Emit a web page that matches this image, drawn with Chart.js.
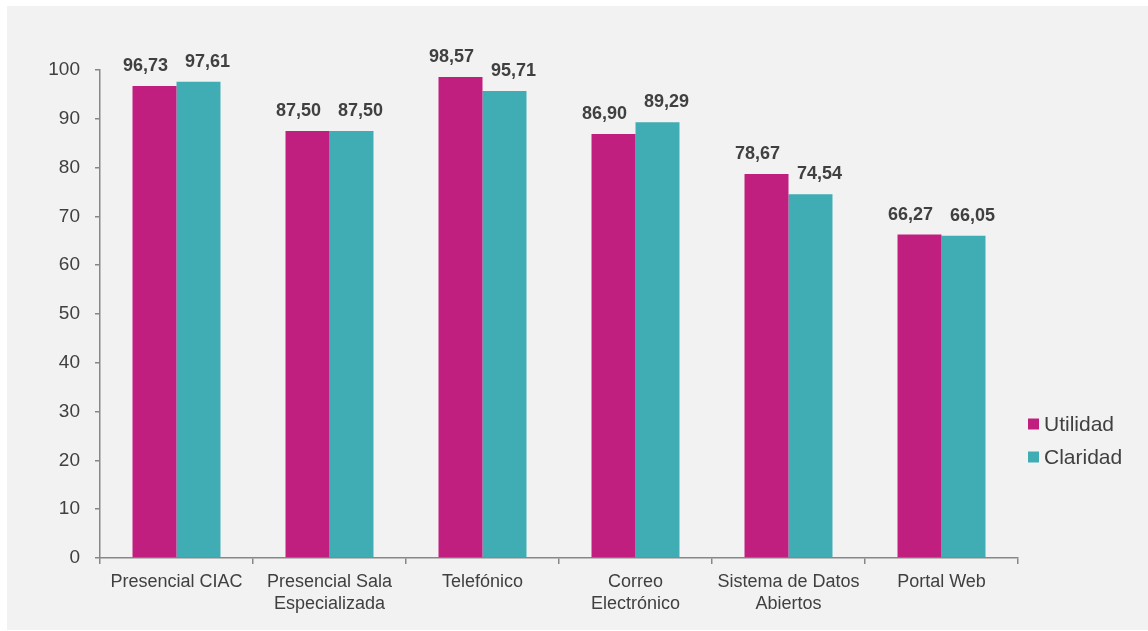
<!DOCTYPE html>
<html>
<head>
<meta charset="utf-8">
<style>
  html, body { margin: 0; padding: 0; background: #ffffff; }
  canvas { display: block; }
</style>
<script src="https://cdn.jsdelivr.net/npm/chart.js@4.4.1/dist/chart.umd.min.js"></script>
</head>
<body>
<canvas id="chart" width="1148" height="631"></canvas>
<script>
// Survey results by service channel (percent)
const categories = [
  'Presencial CIAC',
  ['Presencial Sala', 'Especializada'],
  'Telefónico',
  ['Correo', 'Electrónico'],
  ['Sistema de Datos', 'Abiertos'],
  'Portal Web'
];
const utilidad = [96.73, 87.50, 98.57, 86.90, 78.67, 66.27];
const claridad = [97.61, 87.50, 95.71, 89.29, 74.54, 66.05];
const seriesNames = ['Utilidad', 'Claridad'];
const yTicks = [0, 10, 20, 30, 40, 50, 60, 70, 80, 90, 100];

const COLORS = ['#c01f80', '#40adb5'];
const TEXT = '#404040';
const AXIS = '#878787';
const FONT = "'Liberation Sans', Arial, sans-serif";

// Panel background behind the plot
const panelBg = {
  id: 'panelBg',
  beforeDraw(chart) {
    const ctx = chart.ctx;
    ctx.save();
    ctx.fillStyle = '#ffffff';
    ctx.fillRect(0, 0, chart.width, chart.height);
    ctx.fillStyle = '#f2f2f2';
    ctx.fillRect(7, 6, chart.width - 7, 624);
    ctx.restore();
  }
};

// Value labels above each bar, written with a decimal comma.
// When the two labels of a category would collide they are pushed apart.
const valueLabels = {
  id: 'valueLabels',
  afterDatasetsDraw(chart) {
    const ctx = chart.ctx;
    const lift = 15, textH = 24, minSep = 62;
    ctx.save();
    ctx.font = "bold 18px " + FONT;
    ctx.fillStyle = TEXT;
    ctx.textAlign = 'center';
    ctx.textBaseline = 'alphabetic';
    const metaA = chart.getDatasetMeta(0).data;
    const metaB = chart.getDatasetMeta(1).data;
    const dsA = chart.data.datasets[0].data;
    const dsB = chart.data.datasets[1].data;
    metaA.forEach((barA, j) => {
      const barB = metaB[j];
      let xa = barA.x, xb = barB.x;
      const ya = barA.y - lift, yb = barB.y - lift;
      if (Math.abs(ya - yb) < textH && (xb - xa) < minSep) {
        const push = (minSep - (xb - xa)) / 2;
        xa -= push;
        xb += push;
      }
      ctx.fillText(dsA[j].toFixed(2).replace('.', ','), xa, ya);
      ctx.fillText(dsB[j].toFixed(2).replace('.', ','), xb, yb);
    });
    ctx.restore();
  }
};

// Legend at the lower right of the plot
const sideLegend = {
  id: 'sideLegend',
  afterDraw(chart) {
    const ctx = chart.ctx;
    ctx.save();
    ctx.font = "21px " + FONT;
    ctx.textBaseline = 'middle';
    ctx.textAlign = 'left';
    chart.data.datasets.forEach((ds, i) => {
      const cy = 424 + i * 33;
      ctx.fillStyle = ds.backgroundColor;
      ctx.fillRect(1028, cy - 5.5, 11, 11);
      ctx.fillStyle = TEXT;
      ctx.fillText(ds.label, 1044, cy + 1);
    });
    ctx.restore();
  }
};

new Chart(document.getElementById('chart'), {
  type: 'bar',
  data: {
    labels: categories,
    datasets: [
      { label: seriesNames[0], data: utilidad, backgroundColor: COLORS[0] },
      { label: seriesNames[1], data: claridad, backgroundColor: COLORS[1] }
    ]
  },
  options: {
    responsive: false,
    animation: false,
    devicePixelRatio: 1,
    layout: { padding: { left: 0, top: 70, right: 130, bottom: 0 } },
    datasets: {
      bar: { categoryPercentage: 0.575, barPercentage: 1.0, borderWidth: 0 }
    },
    plugins: {
      legend: { display: false },
      tooltip: { enabled: false }
    },
    scales: {
      x: {
        grid: {
          offset: true,
          drawOnChartArea: false,
          drawTicks: true,
          tickLength: 6,
          color: AXIS,
          lineWidth: 1.5
        },
        border: { display: true, color: AXIS, width: 1.5 },
        ticks: {
          color: TEXT,
          font: { family: FONT, size: 18, lineHeight: 1.17 },
          padding: 8,
          maxRotation: 0,
          autoSkip: false
        },
        afterFit(scale) { scale.height = 73; }
      },
      y: {
        min: 0,
        max: 100,
        afterBuildTicks(scale) { scale.ticks = yTicks.map(v => ({ value: v })); },
        grid: {
          drawOnChartArea: false,
          drawTicks: true,
          tickLength: 5,
          color: AXIS,
          lineWidth: 1.5
        },
        border: { display: true, color: AXIS, width: 1.5 },
        ticks: {
          color: TEXT,
          font: { family: FONT, size: 19 },
          padding: 15
        },
        afterFit(scale) { scale.width = 100; }
      }
    }
  },
  plugins: [panelBg, valueLabels, sideLegend]
});
</script>
</body>
</html>
